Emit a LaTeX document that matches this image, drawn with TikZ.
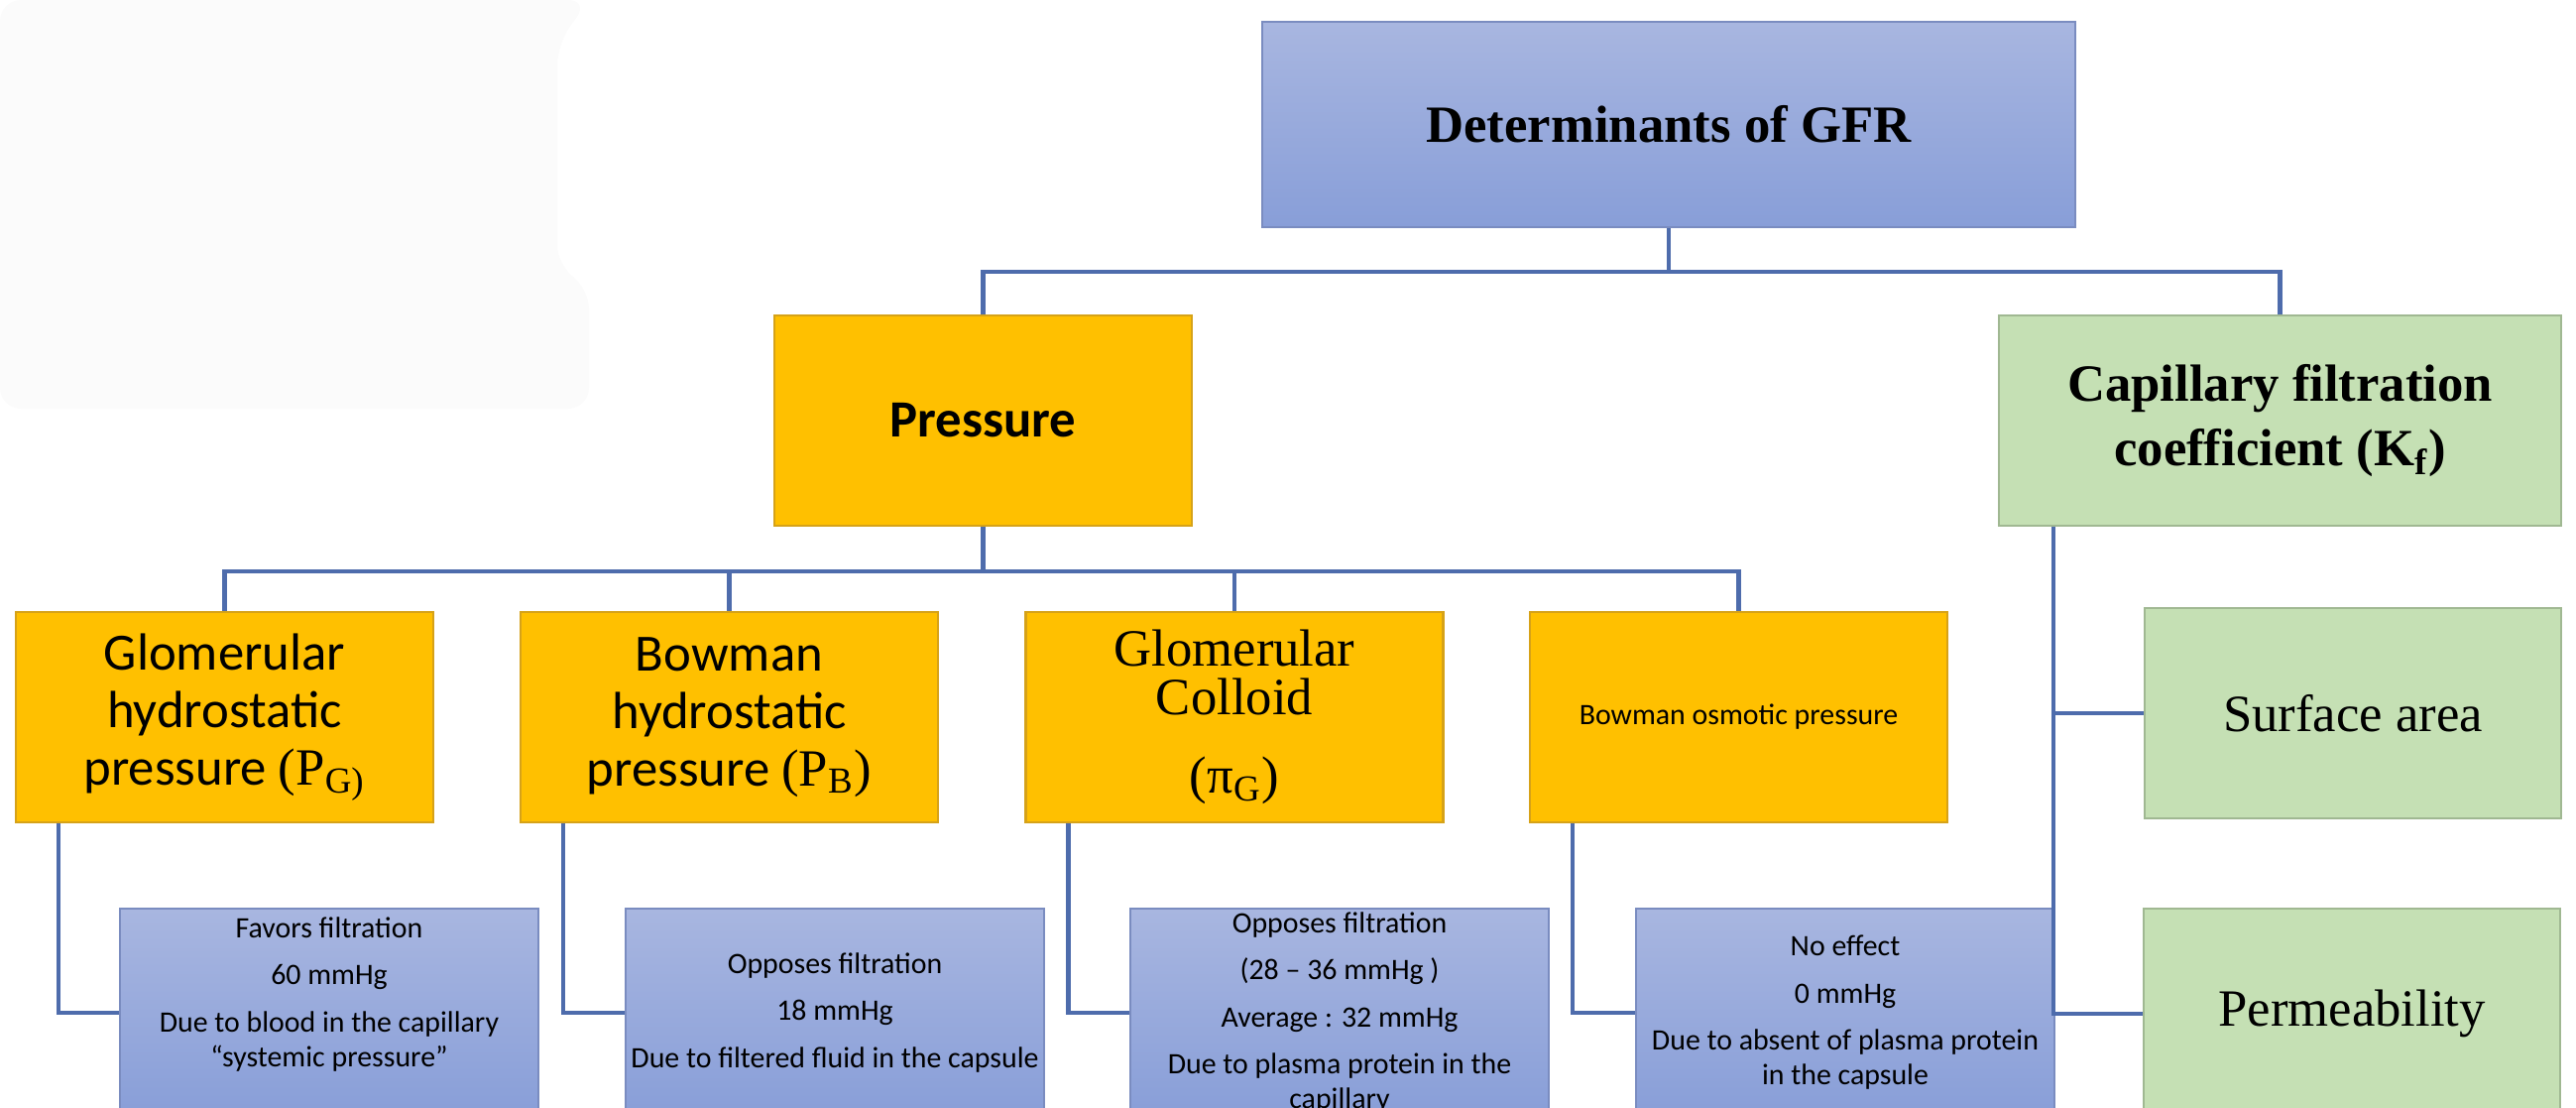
\documentclass[tikz,border=0pt]{standalone}
\usepackage{fontspec}
\setmainfont{Liberation Serif}
\newfontfamily\calibri{Carlito}
\usepackage{tikz}

\definecolor{gfrtop}{RGB}{168,182,224}
\definecolor{gfrbot}{RGB}{136,158,216}
\definecolor{gfredge}{RGB}{122,140,192}
\definecolor{presgold}{RGB}{255,192,0}
\definecolor{presedge}{RGB}{214,162,24}
\definecolor{kfgreen}{RGB}{197,224,180}
\definecolor{kfedge}{RGB}{160,184,146}
\definecolor{linkblue}{RGB}{78,108,172}
\definecolor{paper}{RGB}{251,251,251}

\tikzset{
  gfrbox/.style={draw=gfredge, line width=0.6pt, top color=gfrtop, bottom color=gfrbot,
    minimum width=8.2cm, minimum height=2.07cm, align=center},
  presbox/.style={draw=presedge, line width=0.6pt, fill=presgold, minimum width=4.21cm,
    minimum height=2.12cm, align=center, inner sep=1pt},
  kfbox/.style={draw=kfedge, line width=0.6pt, fill=kfgreen, minimum height=2.12cm,
    align=center, inner sep=1pt},
  notebox/.style={draw=gfredge, line width=0.6pt, top color=gfrtop, bottom color=gfrbot,
    minimum width=4.22cm, minimum height=2.1cm, align=center, inner xsep=1pt, inner ysep=0pt,
    font=\calibri\fontsize{8.5}{10}\selectfont},
  link/.style={draw=linkblue, line width=1.2pt},
}

\begin{document}
\begin{tikzpicture}
  \useasboundingbox (0,0) rectangle (25.98,-11.16);
  \clip (0,0) rectangle (25.98,-11.16);

  % 1. faint patch in the upper left corner
  \fill[paper, rounded corners=6pt] (0,0) -- (5.94,0) -- (5.62,-0.45) -- (5.62,-2.68)
    -- (5.94,-2.9) -- (5.94,-4.12) -- (0,-4.12) -- cycle;

  % 2. top of the tree
  \node[gfrbox, font=\bfseries\fontsize{15}{17}\selectfont] (gfr) at (16.83,-1.255) {Determinants of GFR};
  \node[presbox, font=\calibri\bfseries\fontsize{15}{17}\selectfont] (pres) at (9.915,-4.24) {Pressure};
  \node[kfbox, minimum width=5.67cm, font=\bfseries\fontsize{15}{18.5}\selectfont] (kf) at (22.995,-4.24)
    {Capillary filtration\\coefficient (K\textsubscript{f})};

  % 3. the four pressures
  \node[presbox, font=\calibri\fontsize{15}{16.5}\selectfont] (g1) at (2.265,-7.23)
    {Glomerular\\hydrostatic\\pressure {\rmfamily (P\textsubscript{G)}}};
  \node[presbox, font=\calibri\fontsize{15}{16.5}\selectfont] (g2) at (7.355,-7.23)
    {Bowman\\hydrostatic\\pressure {\rmfamily (P\textsubscript{B})}};
  \node[presbox, font=\fontsize{15}{14}\selectfont] (g3) at (12.45,-7.23)
    {Glomerular\\Colloid\\[3mm](π\textsubscript{G})};
  \node[presbox, font=\calibri\fontsize{8.5}{10}\selectfont] (g4) at (17.535,-7.23) {Bowman osmotic pressure};

  % 4. what each pressure does
  \node[notebox] (d1) at (3.32,-10.21)
    {Favors filtration\\[3.5pt]60 mmHg\\[3.5pt]Due to blood in the capillary\\“systemic pressure”\\[2pt]\mbox{}};
  \node[notebox] (d2) at (8.42,-10.21)
    {Opposes filtration\\[3.5pt]18 mmHg\\[3.5pt]Due to filtered fluid in the capsule};
  \node[notebox] (d3) at (13.51,-10.21)
    {Opposes filtration\\[3.5pt](28 – 36 mmHg )\\[3.5pt]Average : 32 mmHg\\[3.5pt]Due to plasma protein in the\\capillary};
  \node[notebox] (d4) at (18.61,-10.21)
    {No effect\\[3.5pt]0 mmHg\\[3.5pt]Due to absent of plasma protein\\in the capsule};

  % 5. parts of K_f
  \node[kfbox, minimum width=4.2cm, font=\fontsize{15}{17}\selectfont] (sa) at (23.73,-7.19) {Surface area};
  \node[kfbox, minimum width=4.2cm, font=\fontsize{15}{17}\selectfont] (pm) at (23.72,-10.22) {Permeability};

  % 6. connectors
  \draw[link] (gfr.south) -- ++(0,-0.44) coordinate (bus1);
  \draw[link] (pres.north) |- (bus1) -| (kf.north);
  \draw[link] (pres.south) -- ++(0,-0.45) coordinate (bus2);
  \foreach \n in {1,...,4}
    \draw[link] (g\n.north) |- (bus2);
  \foreach \n in {1,...,4}
    \draw[link] ([xshift=4.4mm]g\n.south west) |- (d\n.west);
  \draw[link] ([xshift=5.6mm]kf.south west) |- (sa.west);
  \draw[link] ([xshift=5.6mm]kf.south west) |- (pm.west);
\end{tikzpicture}
\end{document}
